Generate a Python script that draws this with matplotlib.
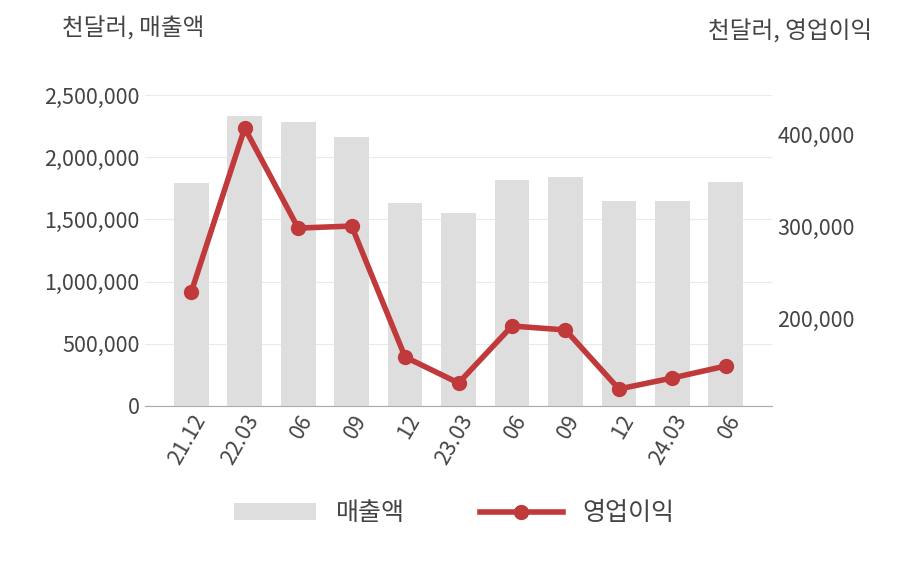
import matplotlib
matplotlib.use("Agg")
import matplotlib.pyplot as plt
from matplotlib.ticker import FuncFormatter

plt.rcParams['font.family'] = ['Noto Sans CJK KR', 'DejaVu Sans']

labels = ["21.12", "22.03", "06", "09", "12", "23.03", "06", "09", "12", "24.03", "06"]
sales = [1790000, 2330000, 2280000, 2160000, 1630000, 1555000, 1820000, 1840000, 1650000, 1650000, 1800000]
profit = [228300, 406500, 297800, 300000, 157600, 129300, 191300, 187000, 122800, 134800, 147800]

fig = plt.figure(figsize=(9.08, 5.8), dpi=100)
ax = fig.add_axes([0.16, 0.30, 0.69, 0.536])
x = list(range(len(labels)))
ax.bar(x, sales, width=0.65, color='#dedede', label='매출액', zorder=2)
ax.set_ylim(0, 2500000)
ax.set_xlim(-0.86, 10.86)
ax.set_yticks([0, 500000, 1000000, 1500000, 2000000, 2500000])
fmt = FuncFormatter(lambda v, p: f"{int(v):,}")
ax.yaxis.set_major_formatter(fmt)
ax.grid(axis='y', color='#eaeaea', lw=0.8, zorder=0)
for s in ['top', 'right', 'left']:
    ax.spines[s].set_visible(False)
ax.spines['bottom'].set_color('#aaaaaa')
ax.tick_params(axis='y', length=0, labelsize=15.5, colors='#444444', pad=4)
ax.tick_params(axis='x', length=0, labelsize=15.5, colors='#444444')
ax.set_xticks(x)
ax.set_xticklabels(labels, rotation=60, ha='right', rotation_mode='anchor')

ax2 = ax.twinx()
ax2.plot(x, profit, color='#c0393b', lw=4, marker='o', ms=10, label='영업이익', zorder=3)
ax2.set_ylim(104300, 442400)
ax2.set_yticks([200000, 300000, 400000])
ax2.yaxis.set_major_formatter(fmt)
for s in ['top', 'right', 'left', 'bottom']:
    ax2.spines[s].set_visible(False)
ax2.tick_params(axis='y', length=0, labelsize=15.5, colors='#444444', pad=4)

fig.text(0.068, 0.95, '천달러, 매출액', fontsize=17, color='#444444', va='center')
fig.text(0.96, 0.945, '천달러, 영업이익', fontsize=17, color='#444444', va='center', ha='right')

h1, l1 = ax.get_legend_handles_labels()
h2, l2 = ax2.get_legend_handles_labels()
fig.legend(h1 + h2, l1 + l2, loc='center', bbox_to_anchor=(0.5, 0.115), ncol=2,
           frameon=False, fontsize=18, handlelength=3.3, columnspacing=3, labelcolor='#444444')

fig.savefig('out.png', dpi=100)
